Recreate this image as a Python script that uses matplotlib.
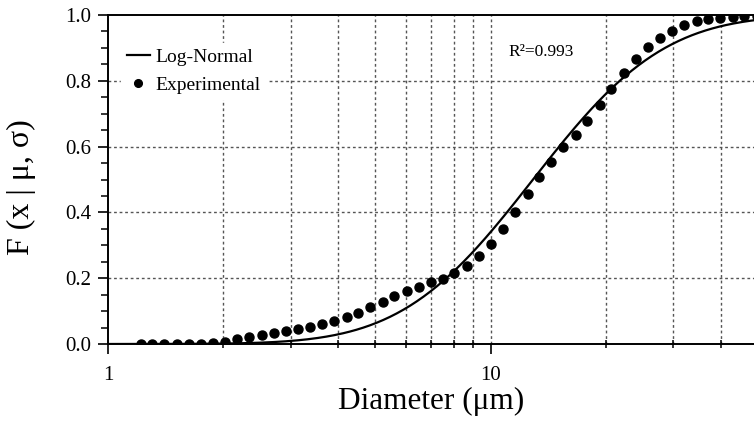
import numpy as np
import matplotlib.pyplot as plt
from matplotlib.ticker import FixedLocator, NullFormatter, FixedFormatter, MultipleLocator
from math import erf

plt.rcParams['font.family'] = ['Liberation Serif', 'DejaVu Serif']

# measured particle diameters (um) and cumulative fraction
diam = [1.217, 1.305, 1.403, 1.512, 1.628, 1.750, 1.884, 2.025, 2.177, 2.340,
        2.521, 2.716, 2.913, 3.131, 3.372, 3.617, 3.895, 4.205, 4.508, 4.837,
        5.223, 5.600, 6.032, 6.495, 6.982, 7.491, 8.034, 8.657, 9.304, 10.02,
        10.79, 11.59, 12.49, 13.40, 14.38, 15.48, 16.71, 17.88, 19.30, 20.62,
        22.30, 23.97, 25.81, 27.70, 29.77, 32.00, 34.54, 37.04, 39.81, 42.90,
        46.00, 49.50]
frac = [0.000, 0.000, 0.000, 0.000, 0.000, 0.001, 0.002, 0.007, 0.014, 0.021,
        0.027, 0.034, 0.040, 0.047, 0.053, 0.060, 0.070, 0.081, 0.095, 0.113,
        0.129, 0.146, 0.162, 0.174, 0.187, 0.199, 0.215, 0.236, 0.266, 0.304,
        0.349, 0.402, 0.456, 0.509, 0.554, 0.598, 0.635, 0.679, 0.726, 0.774,
        0.825, 0.865, 0.902, 0.931, 0.952, 0.970, 0.982, 0.988, 0.990, 0.995,
        0.997, 0.998]

# fitted log-normal parameters
median_d = 12.9
sigma = 0.62
r2 = 0.993

xfit = np.logspace(0, 1.75, 400)
yfit = [0.5 * (1 + erf(np.log(v / median_d) / (sigma * np.sqrt(2)))) for v in xfit]

fig = plt.figure(figsize=(7.54, 4.22), dpi=100)
ax = fig.add_axes([108 / 754, 78 / 422, 646 / 754, 329 / 422])

ax.plot(xfit, yfit, color='black', lw=1.6, label='Log-Normal', zorder=3)
ax.plot(diam, frac, 'o', color='black', ms=6.5, label='Experimental', zorder=4)

ax.set_xscale('log')
ax.set_xlim(1, 10 ** ((754 - 108) / 382.7))
ax.set_ylim(0, 1)

ax.xaxis.set_major_locator(FixedLocator([1, 10]))
ax.xaxis.set_major_formatter(FixedFormatter(['1', '10']))
ax.xaxis.set_minor_locator(FixedLocator([2, 3, 4, 5, 6, 7, 8, 9, 20, 30, 40]))
ax.xaxis.set_minor_formatter(NullFormatter())
ax.yaxis.set_major_locator(MultipleLocator(0.2))
ax.yaxis.set_minor_locator(MultipleLocator(0.05))
ax.yaxis.set_major_formatter(plt.FuncFormatter(lambda v, p: f'{v:.1f}'))

ax.tick_params(axis='both', which='major', direction='out', length=7, width=1.2,
               labelsize=15, color='black')
ax.tick_params(axis='y', which='major', pad=5)
ax.tick_params(axis='x', which='major', pad=9)
ax.tick_params(axis='y', which='minor', direction='out', length=5, width=1.1)
ax.tick_params(axis='x', which='minor', direction='inout', length=6, width=1.1)

grid_kw = dict(color='#555555', lw=1.0, linestyle=(0, (2, 2)))
for v in [2, 3, 4, 5, 6, 7, 8, 9, 10, 20, 30, 40]:
    ax.axvline(v, zorder=1, **grid_kw)
for v in [0.2, 0.4, 0.6, 0.8]:
    ax.axhline(v, zorder=1, **grid_kw)

for s in ['left', 'top', 'bottom']:
    ax.spines[s].set_linewidth(1.4)
ax.spines['right'].set_visible(False)

ax.set_xlabel('Diameter (μm)', fontsize=22.5, labelpad=1)
ax.set_ylabel('F (x | μ, σ)', fontsize=23)
ax.yaxis.set_label_coords(-0.112, 0.477)

leg = ax.legend(loc='upper left', bbox_to_anchor=(0.005, 0.945), fontsize=14,
                handlelength=1.2, handletextpad=0.25, borderpad=0.3,
                labelspacing=0.5, frameon=True, fancybox=False, framealpha=1,
                edgecolor='white', markerscale=0.85)
leg.set_zorder(5)

ax.text((508 - 108) / 646, 1 - (52 - 15) / 329, f'R²={r2}', transform=ax.transAxes,
        fontsize=12.5, va='center', ha='left')

fig.savefig('out.png', dpi=100)
